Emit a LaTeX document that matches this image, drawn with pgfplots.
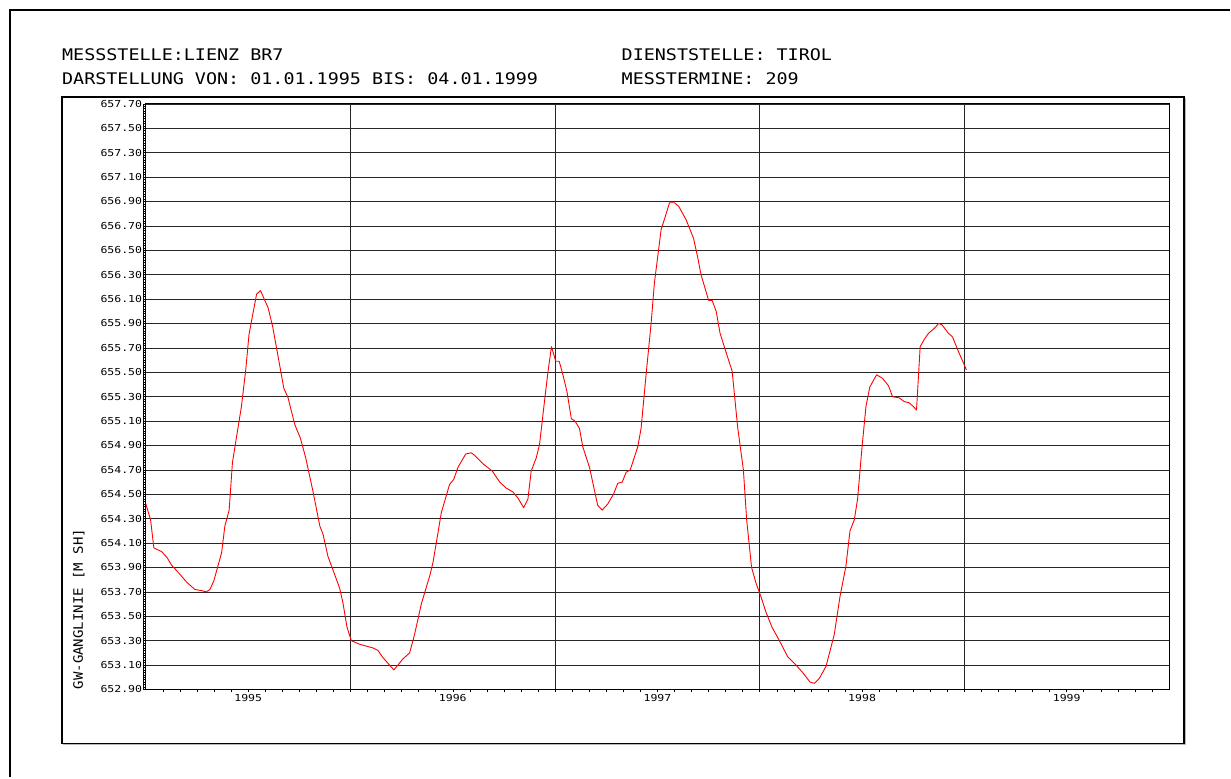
\documentclass[border=0pt]{standalone}
\usepackage{fontspec}
\usepackage{pgfplots}
\pgfplotsset{compat=1.18}
\usepackage{pgfplotstable}

\newfontfamily\hdrfont[FakeStretch=1.15]{DejaVu Sans Mono}
\newfontfamily\tckfont[FakeStretch=1.2]{DejaVu Sans Mono}
\newfontfamily\lblfont[FakeStretch=1.08]{DejaVu Sans Mono}

% GW-Ganglinie Lienz BR7, decimal year vs. level [m SH]
\pgfplotstableread{
t v
1995.000 654.42
1995.023 654.29
1995.039 654.06
1995.077 654.03
1995.104 653.98
1995.125 653.92
1995.158 653.86
1995.199 653.78
1995.239 653.72
1995.272 653.71
1995.296 653.70
1995.313 653.72
1995.332 653.79
1995.370 654.02
1995.386 654.24
1995.407 654.37
1995.423 654.76
1995.443 654.97
1995.467 655.22
1995.488 655.52
1995.504 655.81
1995.524 655.99
1995.541 656.14
1995.560 656.17
1995.581 656.09
1995.597 656.03
1995.619 655.88
1995.646 655.63
1995.674 655.37
1995.695 655.29
1995.728 655.07
1995.755 654.96
1995.781 654.80
1995.817 654.52
1995.850 654.24
1995.866 654.17
1995.890 653.99
1995.923 653.84
1995.947 653.73
1995.963 653.61
1995.983 653.41
1996.004 653.30
1996.045 653.27
1996.110 653.24
1996.134 653.22
1996.159 653.16
1996.212 653.06
1996.256 653.15
1996.289 653.20
1996.313 653.35
1996.346 653.60
1996.387 653.83
1996.403 653.94
1996.444 654.35
1996.484 654.58
1996.504 654.62
1996.525 654.72
1996.563 654.83
1996.590 654.84
1996.606 654.82
1996.647 654.75
1996.693 654.69
1996.729 654.60
1996.761 654.55
1996.793 654.52
1996.818 654.47
1996.846 654.39
1996.867 654.46
1996.883 654.69
1996.908 654.80
1996.924 654.91
1996.943 655.19
1996.964 655.49
1996.982 655.71
1997.003 655.59
1997.020 655.59
1997.038 655.48
1997.058 655.34
1997.079 655.12
1997.097 655.10
1997.119 655.04
1997.135 654.89
1997.168 654.72
1997.208 654.41
1997.230 654.37
1997.257 654.42
1997.285 654.50
1997.306 654.59
1997.328 654.60
1997.347 654.68
1997.367 654.70
1997.404 654.89
1997.420 655.04
1997.445 655.49
1997.469 655.90
1997.485 656.23
1997.518 656.67
1997.539 656.78
1997.559 656.89
1997.583 656.89
1997.604 656.86
1997.640 656.75
1997.676 656.60
1997.697 656.44
1997.713 656.30
1997.750 656.09
1997.767 656.09
1997.787 656.00
1997.806 655.82
1997.836 655.66
1997.865 655.51
1997.892 655.05
1997.920 654.70
1997.936 654.29
1997.960 653.90
1997.982 653.77
1998.006 653.66
1998.031 653.53
1998.060 653.41
1998.096 653.30
1998.136 653.17
1998.177 653.10
1998.209 653.04
1998.246 652.96
1998.267 652.95
1998.291 652.99
1998.324 653.09
1998.364 653.35
1998.392 653.66
1998.421 653.91
1998.441 654.20
1998.462 654.29
1998.478 654.46
1998.500 654.89
1998.519 655.22
1998.538 655.38
1998.571 655.48
1998.600 655.45
1998.629 655.39
1998.649 655.30
1998.682 655.29
1998.706 655.26
1998.730 655.25
1998.750 655.22
1998.766 655.19
1998.784 655.71
1998.804 655.77
1998.825 655.82
1998.853 655.86
1998.874 655.90
1998.890 655.89
1998.922 655.82
1998.942 655.79
1998.971 655.67
1999.010 655.52
}\ganglinie

\begin{document}
\begin{tikzpicture}
% page = 1231pt x 778pt
\path (0pt,0pt) rectangle (1231pt,778pt);

% outer sheet border (top and left only visible)
\draw[line width=2pt] (10pt,0pt) -- (10pt,768pt) -- (1231pt,768pt);

% inner frame with light shadow
\draw[gray!55, line width=1pt] (63.5pt,32.8pt) -- (1186.8pt,32.8pt) -- (1186.8pt,679.5pt);
\draw[line width=1.6pt] (62pt,34pt) rectangle (1185pt,681pt);

% header
\begin{scope}[every node/.style={anchor=base west, inner sep=0pt, font=\hdrfont\fontsize{16}{16}\selectfont}]
\node at (62pt,717pt) {MESSSTELLE:LIENZ BR7};
\node at (62pt,693pt) {DARSTELLUNG VON: 01.01.1995 BIS: 04.01.1999};
\node at (622pt,717pt) {DIENSTSTELLE: TIROL};
\node at (622pt,693pt) {MESSTERMINE: 209};
\end{scope}

\begin{axis}[
    at={(146pt,88pt)}, anchor=south west,
    scale only axis,
    width=1024pt, height=586pt,
    xmin=1995, xmax=2000,
    ymin=652.9, ymax=657.7,
    axis line style={black, line width=0.9pt},
    tick align=outside,
    xtick pos=bottom, ytick pos=left,
    major tick length=3pt, minor tick length=3pt,
    tick style={black, line width=0.6pt},
    xtick={1995.5,1996.5,1997.5,1998.5,1999.5},
    xticklabels={1995,1996,1997,1998,1999},
    minor xtick={1995.0833,1995.1667,1995.25,1995.3333,1995.4167,1995.5833,1995.6667,1995.75,1995.8333,1995.9167,
                 1996.0833,1996.1667,1996.25,1996.3333,1996.4167,1996.5833,1996.6667,1996.75,1996.8333,1996.9167,
                 1997.0833,1997.1667,1997.25,1997.3333,1997.4167,1997.5833,1997.6667,1997.75,1997.8333,1997.9167,
                 1998.0833,1998.1667,1998.25,1998.3333,1998.4167,1998.5833,1998.6667,1998.75,1998.8333,1998.9167,
                 1999.0833,1999.1667,1999.25,1999.3333,1999.4167,1999.5833,1999.6667,1999.75,1999.8333,1999.9167},
    extra x ticks={1996,1997,1998,1999},
    extra x tick labels={},
    extra x tick style={grid=major},
    ytick={652.9,653.1,653.3,653.5,653.7,653.9,654.1,654.3,654.5,654.7,654.9,655.1,655.3,
           655.5,655.7,655.9,656.1,656.3,656.5,656.7,656.9,657.1,657.3,657.5,657.7},
    minor y tick num=9,
    ymajorgrids=true,
    major grid style={black!85, line width=0.7pt},
    /pgf/number format/assume math mode=true,
    yticklabel style={font=\tckfont\fontsize{9.6}{10}\selectfont, inner sep=0.6pt,
        /pgf/number format/fixed, /pgf/number format/fixed zerofill,
        /pgf/number format/precision=2, /pgf/number format/1000 sep={}},
    xticklabel style={font=\tckfont\fontsize{9.6}{10}\selectfont, inner sep=2pt},
]
\addplot[red, line width=0.9pt, no marks, line join=round] table[x=t, y=v] {\ganglinie};
\end{axis}

% second rail of the y ruler
\draw[black, line width=0.6pt] (143pt,88pt) -- (143pt,674pt);

% y axis label
\node[rotate=90, anchor=base west, inner sep=0pt, font=\lblfont\fontsize{13}{13}\selectfont] at (83pt,88pt) {GW-GANGLINIE [M SH]};
\end{tikzpicture}
\end{document}
